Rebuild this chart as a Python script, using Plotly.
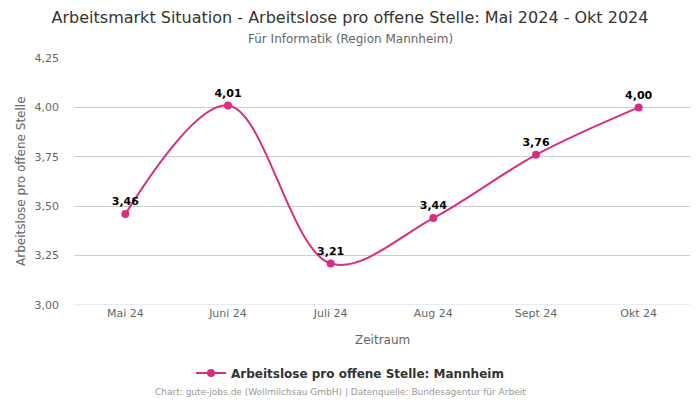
import plotly.graph_objects as go

months = ["Mai 24", "Juni 24", "Juli 24", "Aug 24", "Sept 24", "Okt 24"]
values = [3.46, 4.01, 3.21, 3.44, 3.76, 4.00]
labels = ["3,46", "4,01", "3,21", "3,44", "3,76", "4,00"]
tickvals = [3.0, 3.25, 3.5, 3.75, 4.0, 4.25]
ticktext = ["3,00", "3,25", "3,50", "3,75", "4,00", "4,25"]

color = "#d62f7f"
font = "DejaVu Sans"

L, R, T, B = 74, 10, 58, 95
W, H = 700, 400
ph = H - T - B
pw = W - L - R


def py(p):
    return (H - B - p) / ph


def px(p):
    return (p - L) / pw


fig = go.Figure()
fig.add_trace(go.Scatter(
    x=months, y=values, mode="lines+markers+text",
    name="Arbeitslose pro offene Stelle: Mannheim",
    line=dict(color=color, width=2, shape="spline", smoothing=1),
    marker=dict(color=color, size=8),
    text=labels, textposition="top center",
    textfont=dict(family=font, size=11, color="#000000", weight="bold"),
    cliponaxis=False,
))

fig.update_layout(
    width=W, height=H,
    paper_bgcolor="white", plot_bgcolor="white",
    font=dict(family=font, color="#666666", size=11),
    margin=dict(l=L, r=R, t=T, b=B, autoexpand=False),
    title=dict(
        text="Arbeitsmarkt Situation - Arbeitslose pro offene Stelle: Mai 2024 - Okt 2024",
        x=0.5, xanchor="center", y=1 - 17 / H, yanchor="middle",
        font=dict(family=font, size=16, color="#333333"),
    ),
    showlegend=True,
    legend=dict(orientation="h", x=px(350), xanchor="center", y=py(373), yanchor="middle",
                font=dict(family=font, size=12, color="#333333", weight="bold")),
    xaxis=dict(
        range=[-0.5, 5.5], showgrid=False, showline=False, ticks="", automargin=False,
        tickfont=dict(size=11, color="#666666"),
    ),
    yaxis=dict(
        range=[3.0, 4.25], tickvals=tickvals, ticktext=ticktext, automargin=False,
        showgrid=True, gridcolor="#cccccc", gridwidth=1, zeroline=False,
        tickfont=dict(size=11, color="#666666"), ticks="", ticklabelstandoff=14,
    ),
)
fig.add_shape(type="line", xref="paper", yref="y", x0=0, x1=1, y0=3.0, y1=3.0,
              line=dict(color="#ccd6eb", width=1))
fig.add_annotation(text="Für Informatik (Region Mannheim)", xref="paper", yref="paper",
                   x=px(350), y=py(39), xanchor="center", yanchor="middle",
                   showarrow=False, font=dict(family=font, size=12, color="#666666"))
fig.add_annotation(text="Zeitraum", xref="paper", yref="paper",
                   x=px(382), y=py(340), xanchor="center", yanchor="middle",
                   showarrow=False, font=dict(family=font, size=12, color="#666666"))
fig.add_annotation(text="Arbeitslose pro offene Stelle", xref="paper", yref="paper",
                   x=px(21), y=py(181), xanchor="center", yanchor="middle", textangle=-90,
                   showarrow=False, font=dict(family=font, size=12, color="#666666"))
fig.add_annotation(text="Chart: gute-jobs.de (Wollmilchsau GmbH) | Datenquelle: Bundesagentur für Arbeit",
                   xref="paper", yref="paper", x=px(340), y=py(392), xanchor="center", yanchor="middle",
                   showarrow=False, font=dict(family=font, size=9, color="#999999"))
fig.write_html("out.html", config={"displayModeBar": False},
               post_script="document.body.style.margin='0';document.body.style.overflow='hidden';")
